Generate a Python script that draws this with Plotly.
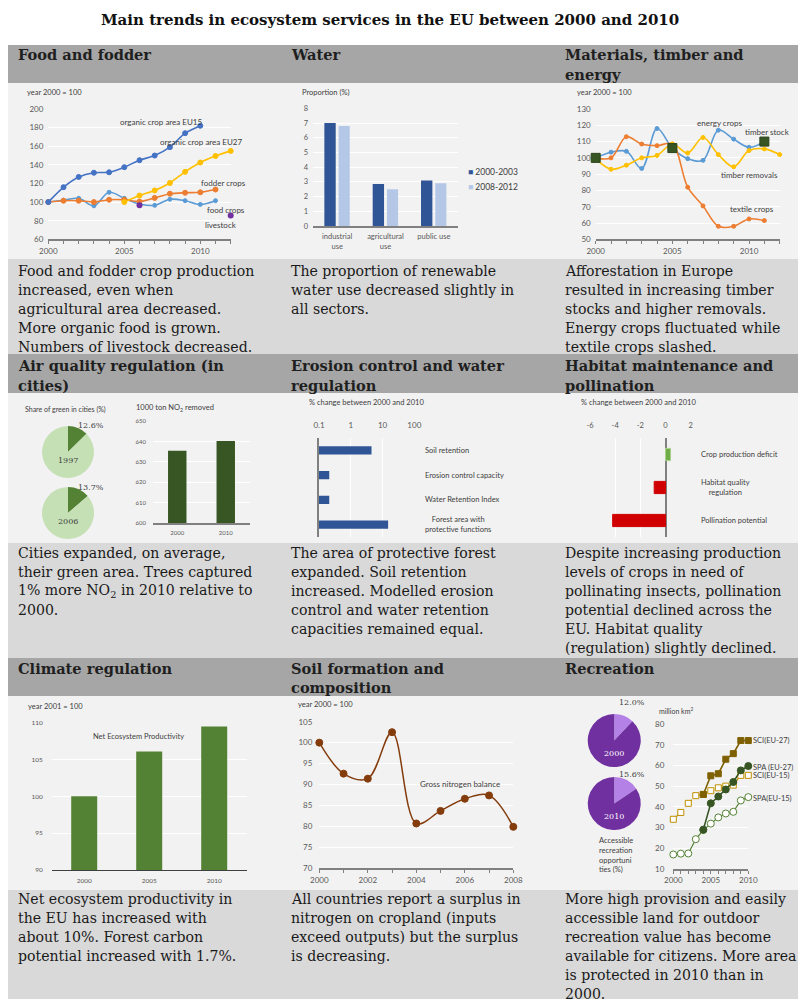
import plotly.graph_objects as go

W, H = 798, 999
SERIF = "DejaVu Serif"
SANS = "Lato"

# ---------------- data ----------------
# Food and fodder (year 2000 = 100)
food_years = list(range(2000, 2012))
eu15_years = list(range(2000, 2011))
organic_eu15 = [100, 116, 127, 131.5, 132, 137.5, 145, 150, 159, 174, 182]
eu27_years = list(range(2005, 2013))
organic_eu27 = [100, 107, 112.5, 120.5, 132.5, 142.5, 149.5, 155]
fodder_crops = [100, 101.5, 101.5, 100, 102.5, 102.5, 100.5, 104.5, 109, 110, 110.5, 113.5]
food_crops = [100, 102, 104, 96, 110.5, 104, 98, 96.5, 103, 101.5, 97.5, 101.5]
livestock_years = [2006, 2012]
livestock = [96.5, 85.5]

# Water, proportion of renewable water use (%)
water_sectors = ["industrial<br>use", "agricultural<br>use", "public use"]
water_2000_2003 = [7.0, 2.85, 3.1]
water_2008_2012 = [6.8, 2.5, 2.9]

# Materials, timber and energy (year 2000 = 100)
mat_years = list(range(2000, 2013))
energy_crops = [100, 103.5, 104, 93.5, 118, 106, 99.5, 98.5, 117, 111.5, 106.5, 110]
textile_crops = [100, 100, 113, 108.5, 107.5, 108.5, 82, 70.5, 58, 58, 62.5, 61.5]
timber_removals = [99.5, 93, 95.5, 100, 101.5, 108.5, 103, 112.5, 102, 94.5, 104.5, 105.5, 102]
stock_years = [2000, 2005, 2011]
timber_stock = [100, 106, 110]

# Air quality regulation
green_years = ["1997", "2006"]
green_share = [12.6, 13.7]
no2_years = ["2000", "2010"]
no2_removed = [635.5, 640.2]

# Erosion control (% change 2000-2010, log scale)
erosion_items = ["Soil retention", "Erosion control capacity", "Water Retention Index",
                 "Forest area with<br>protective functions"]
erosion_change = [4.5, 0.21, 0.21, 15]

# Habitat and pollination (% change 2000-2010)
habitat_items = ["Crop production deficit", "Habitat quality<br>regulation", "Pollination potential"]
habitat_change = [0.4, -0.9, -4.2]
habitat_colors = ["#70ad47", "#d00000", "#d00000"]

# Climate regulation (year 2001 = 100)
nep_years = ["2000", "2005", "2010"]
nep = [100, 106.1, 109.5]

# Soil formation (year 2000 = 100)
nitro_years = list(range(2000, 2009))
nitrogen_balance = [100, 92.6, 91.4, 102.5, 80.7, 83.7, 86.6, 87.4, 79.9]

# Recreation
rec_years = ["2000", "2010"]
rec_share = [12.0, 15.6]
sci27_years = list(range(2004, 2011))
sci27 = [46, 55, 56, 63, 65.7, 72, 72]
sci15_years = list(range(2000, 2011))
sci15 = [34, 37.3, 41.7, 45.4, 46, 47.8, 49.2, 50, 50.5, 55.2, 55.2]
spa27_years = list(range(2004, 2011))
spa27 = [29, 41.7, 45, 48.4, 52, 57.6, 59.7]
spa15_years = list(range(2000, 2011))
spa15 = [17, 17.4, 17.5, 24.4, 28.8, 31.9, 34.9, 36.8, 37.6, 43.1, 44.7]

# text
title = "Main trends in ecosystem services in the EU between 2000 and 2010"
headers = [
    [["Food and fodder"], ["Water"], ["Materials, timber and", "energy"]],
    [["Air quality regulation (in", "cities)"], ["Erosion control and water", "regulation"],
     ["Habitat maintenance and", "pollination"]],
    [["Climate regulation"], ["Soil formation and", "composition"], ["Recreation"]],
]
bodies = [
    [["Food and fodder crop production", "increased, even when", "agricultural area decreased.",
      "More organic food is grown.", "Numbers of livestock decreased."],
     ["The proportion of renewable", "water use decreased slightly in", "all sectors."],
     ["Afforestation in Europe", "resulted in increasing timber", "stocks and higher removals.",
      "Energy crops fluctuated while", "textile crops slashed."]],
    [["Cities expanded, on average,", "their green area. Trees captured",
      "1% more NO<sub>2</sub> in 2010 relative to", "2000."],
     ["The area of protective forest", "expanded. Soil retention", "increased. Modelled erosion",
      "control and water retention", "capacities remained equal."],
     ["Despite increasing production", "levels of crops in need of", "pollinating insects, pollination",
      "potential declined across the", "EU. Habitat quality", "(regulation) slightly declined."]],
    [["Net ecosystem productivity in", "the EU has increased with", "about 10%. Forest carbon",
      "potential increased with 1.7%."],
     ["All countries report a surplus in", "nitrogen on cropland (inputs",
      "exceed outputs) but the surplus", "is decreasing."],
     ["More high provision and easily", "accessible land for outdoor", "recreation value has become",
      "available for citizens. More area", "is protected in 2010 than in", "2000."]],
]


# ---------------- helpers ----------------
def fx(x):
    return x / W


def fy(y):
    return 1 - y / H


def xdom(x0, x1):
    return [fx(x0), fx(x1)]


def ydom(y0, y1):
    return [fy(y1), fy(y0)]


fig = go.Figure()
axes = {}
shapes = []
annotations = []
GRID = "white"
AXLINE = "#808080"
TICKC = "#595959"


def add_axes(n, xd, yd, xkw, ykw):
    s = "" if n == 1 else str(n)
    base = dict(showgrid=False, zeroline=False, showline=False, ticks="", fixedrange=True,
                automargin=False)
    xa = dict(base, domain=xdom(*xd), anchor="y" + s)
    xa.update(xkw)
    ya = dict(base, domain=ydom(*yd), anchor="x" + s)
    ya.update(ykw)
    axes["xaxis" + s] = xa
    axes["yaxis" + s] = ya


def tf(size):
    return dict(family=SANS, size=size, color=TICKC)


def ax(n):
    return ("x", "y") if n == 1 else ("x%d" % n, "y%d" % n)


def line(n, x, y, color, smooth=0.0, msize=5, symbol="circle", mfill=None, dash=None, width=1.6):
    xa, ya = ax(n)
    fig.add_trace(go.Scatter(
        x=x, y=y, xaxis=xa, yaxis=ya, mode="lines+markers",
        line=dict(color=color, width=width, shape="spline" if smooth else "linear",
                  smoothing=smooth if smooth else 1, dash=dash),
        marker=dict(size=msize, color=mfill or color, symbol=symbol, line=dict(color=color, width=1)),
        cliponaxis=False, hoverinfo="skip", showlegend=False))


def note(x, y, text, size=8, color="#404040", xanchor="center", xref="paper", yref="paper",
         family=SANS, **kw):
    if xref == "paper":
        x = fx(x)
    if yref == "paper":
        y = fy(y)
    annotations.append(dict(x=x, y=y, xref=xref, yref=yref, text=text, showarrow=False,
                            xanchor=xanchor, yanchor="middle",
                            font=dict(family=family, size=size, color=color), **kw))


def block(x, y0, lines, size=14.1, bold=False, color="#1a1a1a"):
    for i, ln in enumerate(lines):
        note(x, y0 + 19 * i, "<b>%s</b>" % ln if bold else ln, size=size, color=color,
             xanchor="left", family=SERIF)


# ---------------- table background & text ----------------
bands = [(45, 83, "#a6a6a6"), (83, 259, "#f2f2f2"), (259, 354, "#d9d9d9"),
         (354, 393, "#a6a6a6"), (393, 543, "#f2f2f2"), (543, 658, "#d9d9d9"),
         (658, 696, "#a6a6a6"), (696, 890, "#f2f2f2"), (890, 999, "#d9d9d9")]
for y0, y1, c in bands:
    shapes.append(dict(type="rect", xref="paper", yref="paper", x0=fx(8), x1=1,
                       y0=fy(y1), y1=fy(y0), fillcolor=c, line=dict(width=0), layer="below"))

note(390, 20, "<b>%s</b>" % title, size=15, color="#111111", family=SERIF)
col_x = [16, 289, 563]
head_y = [55, 366, 668]
body_y = [271, 553, 899]
for r in range(3):
    for c in range(3):
        block(col_x[c], head_y[r], headers[r][c], size=14.6, bold=True, color="#1f1f1f")
        block(col_x[c], body_y[r], bodies[r][c])

# ---------------- 1: food and fodder ----------------
add_axes(1, (48.3, 230.7), (109, 239.3),
         dict(range=[2000, 2012], tickvals=[2000, 2005, 2010], showline=True, linecolor=AXLINE,
              linewidth=1.5, ticks="outside", ticklen=3, tickcolor=AXLINE, tickfont=tf(8),
              minor=dict(tickvals=list(range(2000, 2013)), ticks="outside", ticklen=3, tickcolor=AXLINE)),
         dict(range=[60, 200], dtick=20, showgrid=True, gridcolor=GRID, tickfont=tf(8),
              ticklabelstandoff=4))
line(1, food_years, food_crops, "#5b9bd5", smooth=1.0, msize=4)
line(1, food_years, fodder_crops, "#ed7d31", smooth=0.6, msize=5)
line(1, eu27_years, organic_eu27, "#ffc000", smooth=0.6, msize=5)
line(1, eu15_years, organic_eu15, "#4472c4", smooth=0.6, msize=5)
fig.add_trace(go.Scatter(x=livestock_years, y=livestock, mode="markers", xaxis="x", yaxis="y",
                         marker=dict(size=6, color="#7030a0"), cliponaxis=False,
                         hoverinfo="skip", showlegend=False))
note(25, 92, "year 2000 = 100", size=7.5, xanchor="left")
note(2007.4, 186, "organic crop area EU15", xref="x", yref="y")
note(2010.05, 164.5, "organic crop area EU27", xref="x", yref="y")
note(2011.5, 120, "fodder crops", xref="x", yref="y")
note(2011.7, 92, "food crops", xref="x", yref="y")
note(2011.35, 75, "livestock", xref="x", yref="y")

# ---------------- 2: water ----------------
add_axes(2, (313, 458), (108.3, 226),
         dict(type="category", showline=True, linecolor=AXLINE, linewidth=1.5, tickfont=tf(7.5),
              ticklabelstandoff=2),
         dict(range=[0, 8], dtick=1, showgrid=True, gridcolor=GRID, tickfont=tf(7.5),
              ticklabelstandoff=4))
fig.add_trace(go.Bar(x=water_sectors, y=water_2000_2003, xaxis="x2", yaxis="y2", width=0.235,
                     offset=-0.265, marker=dict(color="#2f5597", line=dict(width=0)),
                     hoverinfo="skip", showlegend=False))
fig.add_trace(go.Bar(x=water_sectors, y=water_2008_2012, xaxis="x2", yaxis="y2", width=0.23,
                     offset=0.03, marker=dict(color="#b4c7e7", line=dict(width=0)),
                     hoverinfo="skip", showlegend=False))
note(300, 92, "Proportion (%)", size=7.5, xanchor="left")
note(466, 172, "<span style='color:#2f5597'>■</span> 2000-2003", size=8.5, xanchor="left")
note(466, 187, "<span style='color:#b4c7e7'>■</span> 2008-2012", size=8.5, xanchor="left")

# ---------------- 3: materials ----------------
add_axes(3, (595.7, 779.7), (109, 239.3),
         dict(range=[2000, 2012], tickvals=[2000, 2005, 2010], showline=True, linecolor=AXLINE,
              linewidth=1.5, ticks="outside", ticklen=3, tickcolor=AXLINE, tickfont=tf(8),
              minor=dict(tickvals=list(range(2000, 2013)), ticks="outside", ticklen=3, tickcolor=AXLINE)),
         dict(range=[50, 130], dtick=10, showgrid=True, gridcolor=GRID, tickfont=tf(8),
              ticklabelstandoff=4))
line(3, mat_years[:len(energy_crops)], energy_crops, "#5b9bd5", smooth=1.0, msize=4)
line(3, mat_years[:len(textile_crops)], textile_crops, "#ed7d31", smooth=1.0, msize=4)
line(3, mat_years, timber_removals, "#ffc000", smooth=1.0, msize=4)
fig.add_trace(go.Scatter(x=stock_years, y=timber_stock, mode="markers", xaxis="x3", yaxis="y3",
                         marker=dict(size=9, symbol="square", color="#375623",
                                     line=dict(color="#2a431a", width=1)),
                         cliponaxis=False, hoverinfo="skip", showlegend=False))
note(575, 92, "year 2000 = 100", size=7.5, xanchor="left")
note(2008.1, 121.4, "energy crops", xref="x3", yref="y3")
note(2011.2, 115.9, "timber stock", xref="x3", yref="y3")
note(2010.0, 89.4, "timber removals", xref="x3", yref="y3")
note(2010.2, 68.5, "textile crops", xref="x3", yref="y3")

# ---------------- 4: air quality ----------------
pie_dom = [(426, 478), (487, 539)]
for i in range(2):
    fig.add_trace(go.Pie(values=[green_share[i], 100 - green_share[i]], sort=False,
                         direction="clockwise", rotation=0, textinfo="none", hoverinfo="skip",
                         marker=dict(colors=["#548235", "#c5e0b4"], line=dict(width=0)),
                         domain=dict(x=xdom(42, 94), y=ydom(*pie_dom[i])), showlegend=False))
    note(68, pie_dom[i][0] + 34, green_years[i], size=8, color="#404040", family="DejaVu Serif")
    note(91, pie_dom[i][0], "%.1f%%" % green_share[i], size=8, color="#404040",
         family="DejaVu Serif")
note(23, 409, "Share of green in cities (%)", size=7, xanchor="left")
note(134, 408, "1000 ton NO<sub>2</sub> removed", size=7.5, xanchor="left")
add_axes(4, (153, 250), (421, 523.3),
         dict(type="category", showline=True, linecolor=AXLINE, linewidth=1.5, tickfont=tf(6),
              ticklabelstandoff=3),
         dict(range=[600, 650], dtick=10, showgrid=True, gridcolor=GRID, tickfont=tf(6),
              ticklabelstandoff=6))
fig.add_trace(go.Bar(x=no2_years, y=no2_removed, xaxis="x4", yaxis="y4", width=0.38,
                     marker=dict(color="#375623", line=dict(width=0)), hoverinfo="skip",
                     showlegend=False))

# ---------------- 5: erosion ----------------
add_axes(5, (319, 414.3), (438, 537),
         dict(type="log", range=[-1, 2], side="top", tickvals=[0.1, 1, 10, 100],
              ticktext=["0.1", "1", "10", "100"], showgrid=True, gridcolor=GRID, gridwidth=1.2,
              tickfont=tf(8), ticks="outside", ticklen=6, tickcolor="rgba(0,0,0,0)"),
         dict(type="category", autorange="reversed", showline=True, linecolor=AXLINE,
              linewidth=1.5, showticklabels=False))
fig.add_trace(go.Bar(y=erosion_items, x=erosion_change, orientation="h", xaxis="x5", yaxis="y5",
                     width=0.34, marker=dict(color="#2f5597", line=dict(width=0)),
                     hoverinfo="skip", showlegend=False))
note(307, 402, "% change between 2000 and 2010", size=7.5, xanchor="left")
for it in erosion_items:
    note(423, it, it, size=7.5, xanchor="left", yref="y5", align="center")

# ---------------- 6: habitat ----------------
hab_ticks = [-6, -4, -2, 0, 2]
add_axes(6, (590, 690.7), (438, 537),
         dict(range=[-6, 2], side="top", tickvals=hab_ticks, ticktext=[str(t) for t in hab_ticks],
              showgrid=True, gridcolor=GRID, gridwidth=1.2, zeroline=True, zerolinecolor=AXLINE,
              zerolinewidth=1.5, tickfont=tf(7.5), ticks="outside", ticklen=6,
              tickcolor="rgba(0,0,0,0)"),
         dict(type="category", autorange="reversed", showticklabels=False))
fig.add_trace(go.Bar(y=habitat_items, x=habitat_change, orientation="h", xaxis="x6", yaxis="y6",
                     width=0.37, marker=dict(color=habitat_colors,
                                             line=dict(color=["#a9d18e", "#d00000", "#d00000"], width=1)),
                     hoverinfo="skip", showlegend=False))
note(579, 402, "% change between 2000 and 2010", size=7.5, xanchor="left")
for it in habitat_items:
    note(699, it, it, size=7.5, xanchor="left", yref="y6", align="center")

# ---------------- 7: climate ----------------
add_axes(7, (51.7, 246.7), (722.7, 870),
         dict(type="category", showline=True, linecolor="#404040", linewidth=1.2, tickfont=tf(6.5),
              ticklabelstandoff=4),
         dict(range=[90, 110], dtick=5, showgrid=True, gridcolor=GRID, tickfont=tf(6.5),
              ticklabelstandoff=8))
fig.add_trace(go.Bar(x=nep_years, y=nep, xaxis="x7", yaxis="y7", width=0.4,
                     marker=dict(color="#548235", line=dict(width=0)), hoverinfo="skip",
                     showlegend=False))
note(26, 706, "year 2001 = 100", size=7.5, xanchor="left")
note(138, 736, "Net Ecosystem Productivity", size=7.5)

# ---------------- 8: soil ----------------
add_axes(8, (319.3, 513.3), (721.7, 868.3),
         dict(range=[2000, 2008], tickvals=list(range(2000, 2009, 2)), showline=True,
              linecolor=AXLINE, linewidth=1.5, ticks="outside", ticklen=3, tickcolor=AXLINE,
              tickfont=tf(8),
              minor=dict(tickvals=nitro_years, ticks="outside", ticklen=3, tickcolor=AXLINE)),
         dict(range=[70, 105], dtick=5, showgrid=True, gridcolor=GRID, tickfont=tf(8),
              ticklabelstandoff=6))
line(8, nitro_years, nitrogen_balance, "#843c0c", smooth=1.0, msize=7, width=1.5)
note(296, 704, "year 2000 = 100", size=7.5, xanchor="left")
note(2005.8, 90.1, "Gross nitrogen balance", xref="x8", yref="y8")

# ---------------- 9: recreation ----------------
rec_dom = [(714, 767), (777, 830)]
rec_label_y = [702, 774]
for i in range(2):
    fig.add_trace(go.Pie(values=[rec_share[i], 100 - rec_share[i]], sort=False,
                         direction="clockwise", rotation=0, textinfo="none", hoverinfo="skip",
                         marker=dict(colors=["#b482e6", "#7030a0"], line=dict(width=0)),
                         domain=dict(x=xdom(587.5, 641), y=ydom(*rec_dom[i])), showlegend=False))
    note(614, rec_dom[i][0] + 39, rec_years[i], size=8, color="white", family="DejaVu Serif")
    note(632, rec_label_y[i], "%.1f%%" % rec_share[i], size=8, color="#404040",
         family="DejaVu Serif")
note(597, 855, "Accessible<br>recreation<br>opportuni<br>ties (%)", size=7.5, xanchor="left",
     align="left")
note(657, 710, "million km<sup>2</sup>", size=7, xanchor="left")
add_axes(9, (673.3, 748.3), (724, 869),
         dict(range=[2000, 2010], tickvals=[2000, 2005, 2010], showline=True, linecolor=AXLINE,
              linewidth=1.5, ticks="outside", ticklen=3, tickcolor=AXLINE, tickfont=tf(8),
              minor=dict(tickvals=sci15_years, ticks="outside", ticklen=3, tickcolor=AXLINE)),
         dict(range=[10, 80], dtick=10, showgrid=True, gridcolor=GRID, tickfont=tf(8),
              ticklabelstandoff=8))
line(9, sci15_years, sci15, "#bf9000", msize=6, symbol="square", mfill="white", dash="dash",
     width=1.2)
line(9, spa15_years, spa15, "#548235", msize=7, mfill="white", width=1.2)
line(9, sci27_years, sci27, "#7f6000", msize=6, symbol="square", width=1.6)
line(9, spa27_years, spa27, "#375623", msize=7, width=1.6)
for lab, yv in [("SCI(EU-27)", 72), ("SPA (EU-27)", 59), ("SCI(EU-15)", 55), ("SPA(EU-15)", 44)]:
    note(2010, yv, lab, size=7.5, xanchor="left", xref="x9", yref="y9", xshift=3)

fig.update_layout(template="none", width=W, height=H,
                  margin=dict(l=0, r=0, t=0, b=0, pad=0, autoexpand=False),
                  paper_bgcolor="white", plot_bgcolor="rgba(0,0,0,0)", barmode="overlay",
                  showlegend=False, font=dict(family=SANS, size=8, color="#404040"),
                  shapes=shapes, annotations=annotations, **axes)
# the page's default body margin would push the figure 8px in; drop it
fig.write_html("out.html", config={"displayModeBar": False},
               post_script="document.body.style.margin='0';document.body.style.overflow='hidden';")
